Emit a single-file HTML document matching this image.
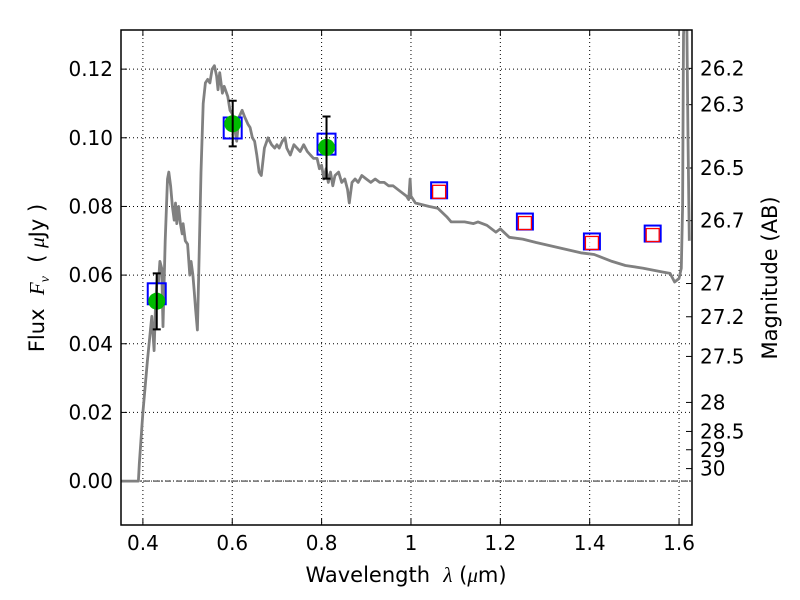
<!DOCTYPE html>
<html><head><meta charset="utf-8"><style>
html,body{margin:0;padding:0;background:#fff;}
svg{display:block;font-family:"DejaVu Sans","Liberation Sans",sans-serif;}
</style></head><body>
<svg id="chart" width="800" height="600" viewBox="0 0 800 600"></svg>
<script>
const specLam = [0.35,0.39,0.392,0.40,0.41,0.42,0.425,0.428,0.432,0.435,0.438,0.442,0.445,0.45,0.455,0.458,0.462,0.466,0.47,0.473,0.476,0.48,0.484,0.488,0.49,0.495,0.50,0.505,0.508,0.512,0.515,0.518,0.522,0.525,0.53,0.535,0.54,0.545,0.55,0.555,0.56,0.565,0.568,0.572,0.578,0.582,0.59,0.595,0.60,0.605,0.61,0.615,0.622,0.628,0.635,0.64,0.645,0.65,0.655,0.66,0.665,0.672,0.68,0.688,0.695,0.70,0.705,0.712,0.718,0.722,0.73,0.738,0.745,0.752,0.76,0.768,0.775,0.782,0.79,0.795,0.80,0.805,0.81,0.815,0.82,0.825,0.83,0.838,0.845,0.852,0.858,0.862,0.868,0.875,0.882,0.89,0.90,0.91,0.92,0.93,0.94,0.95,0.96,0.97,0.98,0.99,0.995,0.998,1.0,1.01,1.04,1.06,1.08,1.09,1.12,1.14,1.15,1.17,1.19,1.20,1.22,1.25,1.28,1.33,1.38,1.41,1.45,1.48,1.52,1.56,1.58,1.59,1.60,1.605,1.608,1.61,1.614,1.617,1.62,1.623];
const specFlux = [0,0,0.005,0.02,0.035,0.048,0.038,0.05,0.06,0.058,0.064,0.062,0.045,0.07,0.088,0.09,0.086,0.08,0.076,0.081,0.075,0.08,0.075,0.072,0.075,0.07,0.069,0.06,0.064,0.06,0.055,0.05,0.044,0.06,0.09,0.11,0.116,0.117,0.116,0.12,0.121,0.118,0.114,0.119,0.113,0.115,0.112,0.108,0.107,0.103,0.099,0.106,0.108,0.106,0.104,0.103,0.1,0.099,0.095,0.09,0.089,0.097,0.1,0.098,0.097,0.098,0.097,0.099,0.1,0.097,0.095,0.098,0.097,0.096,0.098,0.096,0.095,0.094,0.094,0.091,0.092,0.088,0.091,0.087,0.09,0.086,0.089,0.09,0.087,0.088,0.085,0.081,0.087,0.088,0.087,0.089,0.088,0.087,0.088,0.087,0.087,0.086,0.086,0.085,0.084,0.083,0.082,0.088,0.083,0.081,0.080,0.0795,0.077,0.0755,0.0755,0.075,0.0755,0.0745,0.0725,0.0735,0.071,0.0705,0.0695,0.068,0.0665,0.066,0.064,0.0628,0.062,0.061,0.0605,0.058,0.059,0.062,0.08,0.13,0.14,0.14,0.10,0.07];
const obsLam = [0.431,0.601,0.811];
const obsFlux = [0.0524,0.1041,0.0972];
const obsSquare = [0.0547,0.103,0.0983];
const obsErrLo = [0.0442,0.0975,0.0881];
const obsErrHi = [0.0605,0.1108,0.1062];
const predLam = [1.063,1.255,1.405,1.541];
const predFlux = [0.0847,0.0756,0.0698,0.0721];
const xTicks = [0.4,0.6,0.8,1.0,1.2,1.4,1.6];
const xTickLabels = ["0.4","0.6","0.8","1","1.2","1.4","1.6"];
const yTicks = [0,0.02,0.04,0.06,0.08,0.10,0.12];
const yTickLabels = ["0.00","0.02","0.04","0.06","0.08","0.10","0.12"];
const magTicks = [26.2,26.3,26.5,26.7,27,27.2,27.5,28,28.5,29,30];
const magLabels = ["26.2","26.3","26.5","26.7","27","27.2","27.5","28","28.5","29","30"];

const L=121,R=692,T=30,B=525;
const xMin=0.351,xMax=1.629,yMin=-0.0128,yMax=0.1314;
const X=v=>L+(v-xMin)/(xMax-xMin)*(R-L);
const Y=v=>T+(yMax-v)/(yMax-yMin)*(B-T);
const NS="http://www.w3.org/2000/svg";
const svg=document.getElementById('chart');
function mk(tag,attrs,parent){const e=document.createElementNS(NS,tag);for(const k in attrs)e.setAttribute(k,attrs[k]);(parent||svg).appendChild(e);return e;}

const clip=mk('clipPath',{id:'pc'});mk('rect',{x:L,y:T,width:R-L,height:B-T},clip);

xTicks.forEach((t,i)=>{
  const g=mk('line',{x1:X(t),x2:X(t),y1:T,y2:B,stroke:'#000','stroke-width':1,'stroke-dasharray':'1,3'});
  
  
  const tk=mk('line',{x1:X(t),x2:X(t),y1:B,y2:B-6,stroke:'#000'});
  
  
  const tk2=mk('line',{x1:X(t),x2:X(t),y1:T,y2:T+6,stroke:'#000'});
  
  
  const lb=mk('text',{x:X(t),y:B+25,'text-anchor':'middle','font-size':20});
  lb.textContent=xTickLabels[i];
  
  
});
yTicks.forEach((t,i)=>{
  const g=mk('line',{x1:L,x2:R,y1:Y(t),y2:Y(t),stroke:'#000','stroke-width':1,'stroke-dasharray':'1,3'});
  
  
  const tk=mk('line',{x1:L,x2:L+6,y1:Y(t),y2:Y(t),stroke:'#000'});
  
  
  const lb=mk('text',{x:L-8,y:Y(t)+7,'text-anchor':'end','font-size':20});
  lb.textContent=yTickLabels[i];
  
  
});
magTicks.forEach((m,i)=>{
  const f=Math.pow(10,(23.9-m)/2.5);
  const tk=mk('line',{x1:R,x2:R-6,y1:Y(f),y2:Y(f),stroke:'#000'});
  
  
  const lb=mk('text',{x:R+8,y:Y(f)+7,'font-size':20});
  lb.textContent=magLabels[i];
  
  
});
const zl=mk('line',{x1:L,x2:R,y1:Y(0),y2:Y(0),stroke:'#000','stroke-width':0.8,'stroke-dasharray':'6,2,1,2'});



const sp=mk('path',{d:specLam.map((l,i)=>(i?'L':'M')+X(l).toFixed(1)+','+Y(specFlux[i]).toFixed(1)).join(''),fill:'none',stroke:'#808080','stroke-width':2.8,'stroke-linejoin':'round','clip-path':'url(#pc)'});



predLam.forEach((l,i)=>{
  const b=mk('rect',{x:X(l)-8,y:Y(predFlux[i])-8,width:16,height:16,fill:'none',stroke:'#0000ff','stroke-width':2});
  
  
  const r=mk('rect',{x:X(l)-6.5,y:Y(predFlux[i])-5,width:13,height:13,fill:'#fff','fill-opacity':0.7,stroke:'#ff0000','stroke-width':1.3});
  
  
});
obsLam.forEach((l,i)=>{
  const b=mk('rect',{x:X(l)-9,y:Y(obsSquare[i])-10,width:18,height:21,fill:'none',stroke:'#0000ff','stroke-width':2});
  
  
  const c=mk('circle',{cx:X(l),cy:Y(obsFlux[i]),r:8.5,fill:'#00bb00'});
  
  
  const e=mk('path',{d:`M${X(l)},${Y(obsErrLo[i])}V${Y(obsErrHi[i])}M${X(l)-4},${Y(obsErrLo[i])}h8M${X(l)-4},${Y(obsErrHi[i])}h8`,stroke:'#000','stroke-width':2,fill:'none'});
  
  
});

const fr=mk('rect',{x:L,y:T,width:R-L,height:B-T,fill:'none',stroke:'#000','stroke-width':1.5});



const xt=mk('text',{x:406,y:582,'text-anchor':'middle','font-size':21});
xt.innerHTML='Wavelength &#160;<tspan font-style="italic" font-family="Liberation Serif,serif">λ</tspan> (<tspan font-style="italic" font-family="Liberation Serif,serif">μ</tspan>m)';


const yt=mk('text',{transform:'translate(44,278) rotate(-90)','text-anchor':'middle','font-size':21});
yt.innerHTML='Flux &#160;<tspan font-style="italic" font-family="Liberation Serif,serif">F</tspan><tspan font-style="italic" font-family="Liberation Serif,serif" font-size="14" dy="5">ν</tspan><tspan dy="-5"> &#160;( </tspan><tspan font-style="italic" font-family="Liberation Serif,serif">μ</tspan>Jy )';


const rt=mk('text',{transform:'translate(777,278) rotate(-90)','text-anchor':'middle','font-size':21});
rt.textContent='Magnitude (AB)';


</script>
</body></html>
